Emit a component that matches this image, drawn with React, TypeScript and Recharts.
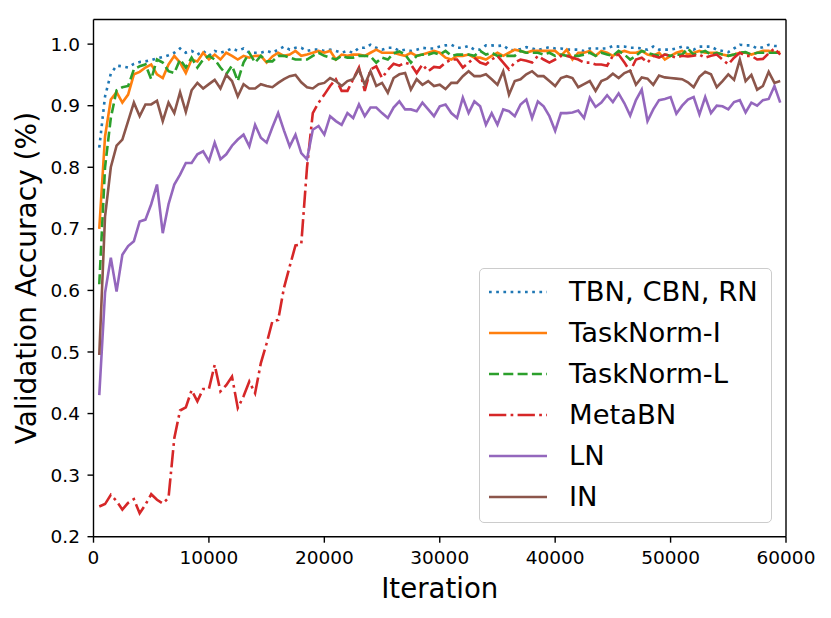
import React from 'react';
import { LineChart, Line, XAxis, YAxis, ReferenceLine, Label } from 'recharts';

const iterations = [
  500, 1000, 1500, 2000, 2500, 3000, 3500, 4000, 4500, 5000,
  5500, 6000, 6500, 7000, 7500, 8000, 8500, 9000, 9500, 10000,
  10500, 11000, 11500, 12000, 12500, 13000, 13500, 14000, 14500, 15000,
  15500, 16000, 16500, 17000, 17500, 18000, 18500, 19000, 19500, 20000,
  20500, 21000, 21500, 22000, 22500, 23000, 23500, 24000, 24500, 25000,
  25500, 26000, 26500, 27000, 27500, 28000, 28500, 29000, 29500, 30000,
  30500, 31000, 31500, 32000, 32500, 33000, 33500, 34000, 34500, 35000,
  35500, 36000, 36500, 37000, 37500, 38000, 38500, 39000, 39500, 40000,
  40500, 41000, 41500, 42000, 42500, 43000, 43500, 44000, 44500, 45000,
  45500, 46000, 46500, 47000, 47500, 48000, 48500, 49000, 49500, 50000,
  50500, 51000, 51500, 52000, 52500, 53000, 53500, 54000, 54500, 55000,
  55500, 56000, 56500, 57000, 57500, 58000, 58500, 59000, 59500,
];

const tbn = [
  0.832, 0.915, 0.952, 0.965, 0.964, 0.962, 0.968, 0.971, 0.972, 0.974,
  0.977, 0.979, 0.982, 0.986, 0.993, 0.986, 0.989, 0.983, 0.989, 0.981,
  0.989, 0.986, 0.989, 0.993, 0.989, 0.993, 0.986, 0.986, 0.986, 0.989,
  0.986, 0.991, 0.996, 0.991, 0.994, 0.994, 0.989, 0.991, 0.991, 0.989,
  0.991, 0.989, 0.986, 0.989, 0.986, 0.994, 0.994, 0.999, 0.994, 0.991,
  0.994, 0.994, 0.989, 0.991, 0.989, 0.991, 0.994, 0.993, 0.993, 0.996,
  0.998, 0.999, 0.994, 0.994, 0.997, 0.991, 0.991, 0.998, 0.998, 0.997,
  0.998, 0.991, 0.990, 0.992, 0.995, 0.993, 0.990, 0.993, 0.995, 0.993,
  0.993, 0.991, 0.991, 0.991, 0.989, 0.993, 0.993, 0.993, 0.993, 0.997,
  0.996, 0.996, 0.994, 0.994, 0.993, 0.991, 0.996, 0.991, 0.991, 0.991,
  0.993, 0.996, 0.994, 0.991, 0.996, 0.996, 0.996, 0.991, 0.989, 0.987,
  0.993, 0.999, 0.998, 0.998, 0.993, 0.995, 0.999, 0.997, 0.997,
];

const taskNormI = [
  0.700, 0.850, 0.910, 0.922, 0.905, 0.918, 0.951, 0.955, 0.962, 0.967,
  0.951, 0.945, 0.967, 0.981, 0.970, 0.953, 0.975, 0.972, 0.986, 0.975,
  0.983, 0.975, 0.986, 0.981, 0.975, 0.981, 0.978, 0.981, 0.981, 0.970,
  0.980, 0.986, 0.981, 0.983, 0.989, 0.981, 0.983, 0.986, 0.989, 0.986,
  0.989, 0.975, 0.983, 0.981, 0.983, 0.983, 0.981, 0.986, 0.991, 0.986,
  0.986, 0.986, 0.983, 0.981, 0.986, 0.981, 0.983, 0.986, 0.989, 0.986,
  0.978, 0.975, 0.981, 0.981, 0.983, 0.978, 0.978, 0.975, 0.981, 0.986,
  0.981, 0.986, 0.991, 0.989, 0.986, 0.989, 0.989, 0.989, 0.989, 0.989,
  0.981, 0.991, 0.975, 0.986, 0.986, 0.989, 0.981, 0.989, 0.986, 0.981,
  0.986, 0.989, 0.986, 0.986, 0.989, 0.983, 0.981, 0.986, 0.975, 0.981,
  0.986, 0.989, 0.983, 0.986, 0.989, 0.986, 0.986, 0.986, 0.983, 0.981,
  0.983, 0.986, 0.986, 0.983, 0.986, 0.989, 0.989, 0.986, 0.987,
];

const taskNormL = [
  0.610, 0.800, 0.880, 0.925, 0.930, 0.932, 0.959, 0.964, 0.967, 0.943,
  0.975, 0.970, 0.956, 0.953, 0.975, 0.962, 0.978, 0.962, 0.975, 0.981,
  0.975, 0.962, 0.951, 0.965, 0.940, 0.970, 0.986, 0.970, 0.981, 0.972,
  0.972, 0.981, 0.981, 0.978, 0.975, 0.975, 0.975, 0.981, 0.986, 0.981,
  0.978, 0.975, 0.981, 0.978, 0.978, 0.981, 0.981, 0.980, 0.970, 0.978,
  0.975, 0.985, 0.988, 0.983, 0.970, 0.981, 0.983, 0.983, 0.986, 0.983,
  0.989, 0.981, 0.983, 0.983, 0.983, 0.981, 0.989, 0.983, 0.986, 0.981,
  0.981, 0.981, 0.981, 0.989, 0.986, 0.986, 0.986, 0.983, 0.986, 0.981,
  0.983, 0.981, 0.981, 0.981, 0.983, 0.986, 0.981, 0.986, 0.983, 0.981,
  0.989, 0.983, 0.975, 0.981, 0.989, 0.986, 0.983, 0.981, 0.983, 0.981,
  0.983, 0.983, 0.993, 0.983, 0.986, 0.989, 0.983, 0.986, 0.983, 0.981,
  0.983, 0.986, 0.987, 0.983, 0.986, 0.986, 0.986, 0.986, 0.986,
];

const metaBN = [
  0.249, 0.253, 0.268, 0.258, 0.244, 0.255, 0.261, 0.238, 0.252, 0.269,
  0.260, 0.254, 0.263, 0.360, 0.405, 0.410, 0.438, 0.420, 0.440, 0.440,
  0.479, 0.436, 0.446, 0.460, 0.409, 0.428, 0.452, 0.433, 0.482, 0.514,
  0.550, 0.552, 0.604, 0.639, 0.673, 0.675, 0.800, 0.888, 0.905, 0.918,
  0.932, 0.943, 0.924, 0.924, 0.943, 0.962, 0.924, 0.959, 0.964, 0.945,
  0.958, 0.968, 0.965, 0.970, 0.967, 0.953, 0.967, 0.956, 0.963, 0.962,
  0.970, 0.975, 0.975, 0.962, 0.970, 0.978, 0.970, 0.967, 0.975, 0.981,
  0.970, 0.959, 0.970, 0.975, 0.973, 0.970, 0.981, 0.975, 0.970, 0.975,
  0.981, 0.981, 0.978, 0.975, 0.970, 0.970, 0.967, 0.967, 0.965, 0.981,
  0.983, 0.970, 0.956, 0.975, 0.978, 0.970, 0.981, 0.978, 0.983, 0.981,
  0.978, 0.981, 0.980, 0.981, 0.983, 0.978, 0.981, 0.983, 0.975, 0.967,
  0.978, 0.986, 0.981, 0.981, 0.975, 0.976, 0.985, 0.993, 0.983,
];

const ln = [
  0.430, 0.596, 0.653, 0.598, 0.658, 0.672, 0.680, 0.712, 0.715, 0.740,
  0.772, 0.693, 0.740, 0.772, 0.788, 0.807, 0.807, 0.821, 0.826, 0.810,
  0.840, 0.813, 0.821, 0.835, 0.845, 0.853, 0.834, 0.869, 0.848, 0.840,
  0.865, 0.888, 0.860, 0.834, 0.853, 0.823, 0.813, 0.861, 0.867, 0.853,
  0.883, 0.875, 0.869, 0.888, 0.880, 0.902, 0.883, 0.897, 0.897, 0.888,
  0.880, 0.897, 0.907, 0.894, 0.894, 0.891, 0.905, 0.894, 0.883, 0.899,
  0.902, 0.888, 0.880, 0.913, 0.888, 0.907, 0.899, 0.869, 0.888, 0.869,
  0.894, 0.891, 0.883, 0.902, 0.910, 0.880, 0.907, 0.899, 0.883, 0.859,
  0.888, 0.888, 0.889, 0.892, 0.880, 0.913, 0.898, 0.905, 0.917, 0.906,
  0.920, 0.904, 0.884, 0.909, 0.926, 0.875, 0.894, 0.909, 0.911, 0.914,
  0.887, 0.900, 0.910, 0.914, 0.886, 0.914, 0.888, 0.900, 0.899, 0.894,
  0.906, 0.909, 0.889, 0.905, 0.900, 0.909, 0.911, 0.932, 0.905,
];

const inorm = [
  0.495, 0.720, 0.800, 0.835, 0.845, 0.875, 0.905, 0.883, 0.902, 0.902,
  0.908, 0.875, 0.905, 0.888, 0.922, 0.890, 0.925, 0.937, 0.928, 0.935,
  0.942, 0.928, 0.950, 0.940, 0.915, 0.935, 0.928, 0.928, 0.935, 0.932,
  0.930, 0.937, 0.943, 0.948, 0.950, 0.938, 0.930, 0.928, 0.935, 0.937,
  0.945, 0.940, 0.932, 0.940, 0.943, 0.959, 0.934, 0.956, 0.932, 0.937,
  0.921, 0.945, 0.951, 0.953, 0.926, 0.943, 0.934, 0.940, 0.932, 0.934,
  0.927, 0.937, 0.937, 0.948, 0.956, 0.948, 0.948, 0.951, 0.943, 0.934,
  0.956, 0.918, 0.940, 0.943, 0.951, 0.956, 0.948, 0.948, 0.940, 0.932,
  0.945, 0.948, 0.945, 0.930, 0.935, 0.940, 0.924, 0.940, 0.944, 0.952,
  0.945, 0.953, 0.957, 0.934, 0.946, 0.944, 0.934, 0.949, 0.946, 0.945,
  0.944, 0.943, 0.938, 0.930, 0.947, 0.955, 0.951, 0.930, 0.940, 0.951,
  0.942, 0.975, 0.940, 0.950, 0.926, 0.932, 0.955, 0.937, 0.940,
];

const xTicks = [0, 10000, 20000, 30000, 40000, 50000, 60000];
const yTicks = [0.2, 0.3, 0.4, 0.5, 0.6, 0.7, 0.8, 0.9, 1.0];

const seriesKeys = ['tbn', 'taskNormI', 'taskNormL', 'metaBN', 'ln', 'inorm'];
const seriesNames = ['TBN, CBN, RN', 'TaskNorm-I', 'TaskNorm-L', 'MetaBN', 'LN', 'IN'];
const seriesValues = [tbn, taskNormI, taskNormL, metaBN, ln, inorm];

const seriesColors = ['#1f77b4', '#ff7f0e', '#2ca02c', '#d62728', '#9467bd', '#8c564b'];
const seriesDash = ['2.7 4.5', undefined, '10 4.3', '17.3 4.3 2.7 4.3', undefined, undefined];

const data = iterations.map((it, i) => {
  const row: Record<string, number> = { iter: it };
  seriesKeys.forEach((k, s) => {
    row[k] = seriesValues[s][i];
  });
  return row;
});

const FONT = 'DejaVu Sans';

const YAxisLabel = (props: any) => {
  const vb = props.viewBox || { x: 0, y: 11.5, width: 85.5, height: 517.2 };
  const cx = 18.5;
  const cy = vb.y + vb.height / 2;
  return (
    <text
      x={cx}
      y={cy}
      transform={`rotate(-90, ${cx}, ${cy})`}
      textAnchor="middle"
      dominantBaseline="central"
      fontSize={28}
      fontFamily={FONT}
      fill="#000"
    >
      Validation Accuracy (%)
    </text>
  );
};

const XAxisLabel = (props: any) => {
  const vb = props.viewBox || { x: 85.5, y: 528.7, width: 692.5, height: 81.3 };
  const cx = vb.x + vb.width / 2;
  return (
    <text x={cx} y={vb.y + 61.5} textAnchor="middle" fontSize={27.6} fontFamily={FONT} fill="#000">
      Iteration
    </text>
  );
};

const LegendBox = () => (
  <div
    style={{
      position: 'absolute',
      left: 471,
      top: 260,
      width: 293,
      height: 255,
      boxSizing: 'border-box',
      border: '1.4px solid #cccccc',
      borderRadius: 5,
      background: 'rgba(255,255,255,0.8)',
      fontFamily: FONT,
    }}
  >
    {seriesNames.map((name, i) => {
      const cy = 23 + i * 40.9;
      return (
        <div key={name} style={{ position: 'absolute', left: 0, top: cy - 18, height: 36, width: '100%' }}>
          <svg width={60} height={36} style={{ position: 'absolute', left: 9, top: 0 }}>
            <line
              x1={0}
              x2={58}
              y1={18}
              y2={18}
              stroke={seriesColors[i]}
              strokeWidth={2.7}
              strokeDasharray={seriesDash[i]}
            />
          </svg>
          <span
            style={{
              position: 'absolute',
              left: 89,
              top: 0,
              height: 36,
              lineHeight: '36px',
              fontSize: 27.4,
              color: '#000',
              whiteSpace: 'nowrap',
            }}
          >
            {name}
          </span>
        </div>
      );
    })}
  </div>
);

export default function App() {
  return (
    <div style={{ position: 'relative', width: 823, height: 610, background: '#fff' }}>
      <LineChart
        width={823}
        height={610}
        data={data}
        margin={{ top: 11.5, right: 45, bottom: 0, left: 0 }}
        style={{ fontFamily: FONT }}
      >
        <XAxis
          dataKey="iter"
          type="number"
          domain={[0, 60000]}
          ticks={xTicks}
          allowDataOverflow
          height={81.3}
          tickSize={6}
          tickMargin={8}
          interval={0}
          axisLine={{ stroke: '#000', strokeWidth: 1.4 }}
          tickLine={{ stroke: '#000', strokeWidth: 1.4 }}
          tick={{ fill: '#000', fontSize: 18.5, fontFamily: FONT }}
        >
          <Label content={XAxisLabel} />
        </XAxis>
        <YAxis
          type="number"
          domain={[0.2, 1.04]}
          ticks={yTicks}
          allowDataOverflow
          width={85.5}
          tickSize={6}
          tickMargin={7.5}
          interval={0}
          tickFormatter={(v: number) => v.toFixed(1)}
          axisLine={{ stroke: '#000', strokeWidth: 1.4 }}
          tickLine={{ stroke: '#000', strokeWidth: 1.4 }}
          tick={{ fill: '#000', fontSize: 18.5, fontFamily: FONT }}
        >
          <Label content={YAxisLabel} />
        </YAxis>
        {seriesKeys.map((k, i) => (
          <Line
            key={k}
            dataKey={k}
            name={seriesNames[i]}
            type="linear"
            stroke={seriesColors[i]}
            strokeWidth={2.6}
            strokeDasharray={seriesDash[i]}
            dot={false}
            activeDot={false}
            isAnimationActive={false}
          />
        ))}
        <ReferenceLine y={1.04} stroke="#000" strokeWidth={1.4} ifOverflow="extendDomain" />
        <ReferenceLine x={60000} stroke="#000" strokeWidth={1.4} ifOverflow="extendDomain" />
      </LineChart>
      <LegendBox />
    </div>
  );
}
